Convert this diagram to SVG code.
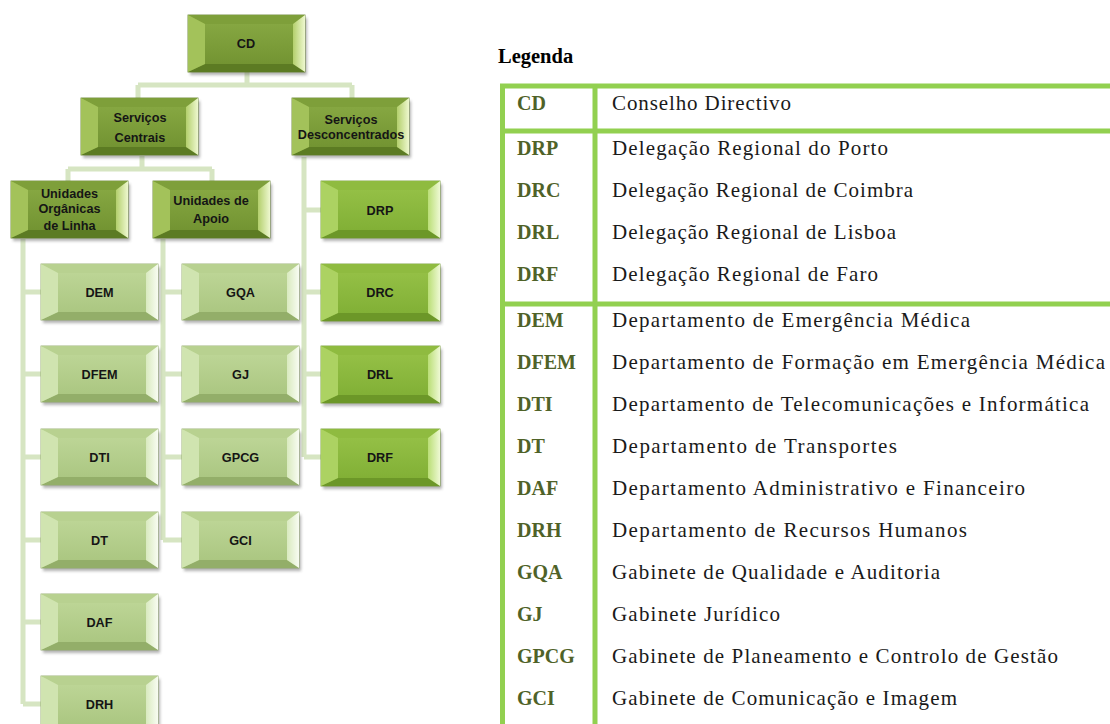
<svg xmlns="http://www.w3.org/2000/svg" xmlns:xlink="http://www.w3.org/1999/xlink" width="1110" height="724" viewBox="0 0 1110 724">
<defs>
<style>
.bt{font-family:"Liberation Sans",Arial,sans-serif;font-weight:bold;font-size:12.7px;fill:#151515;text-anchor:middle}
.ab{font-family:"Liberation Serif","Times New Roman",serif;font-weight:bold;font-size:20px;fill:#4f6228}
.ds{font-family:"Liberation Serif","Times New Roman",serif;font-size:21px;fill:#1a1a1a}
.lg{font-family:"Liberation Serif","Times New Roman",serif;font-weight:bold;font-size:20.5px;fill:#000}
.cn{stroke:#d6e5c2;stroke-width:5;fill:none}
.tb{stroke:#92d050;stroke-width:5;fill:none}
</style>
<filter id="sh" x="-10%" y="-10%" width="130%" height="140%">
<feGaussianBlur stdDeviation="1.5"/>
</filter>
<linearGradient id="gDk" x1="0" y1="0" x2="0" y2="1"><stop offset="0" stop-color="#8aab45"/><stop offset="1" stop-color="#6f902f"/></linearGradient>
<linearGradient id="gDkR" x1="0" y1="0" x2="1" y2="0"><stop offset="0" stop-color="#b3cf6c"/><stop offset="1" stop-color="#eef8cf"/></linearGradient>
<linearGradient id="gBr" x1="0" y1="0" x2="0" y2="1"><stop offset="0" stop-color="#98c349"/><stop offset="1" stop-color="#7ead33"/></linearGradient>
<linearGradient id="gBrR" x1="0" y1="0" x2="1" y2="0"><stop offset="0" stop-color="#bade76"/><stop offset="1" stop-color="#eef9d4"/></linearGradient>
<linearGradient id="gLt" x1="0" y1="0" x2="0" y2="1"><stop offset="0" stop-color="#c0d89a"/><stop offset="1" stop-color="#a8c47e"/></linearGradient>
<linearGradient id="gLtR" x1="0" y1="0" x2="1" y2="0"><stop offset="0" stop-color="#d9eabf"/><stop offset="1" stop-color="#f8fcf2"/></linearGradient>
<g id="bxDark">
<rect x="2" y="3" width="117" height="57" fill="#555" opacity="0.45" filter="url(#sh)"/>
<rect x="0" y="0" width="117" height="57" fill="url(#gDk)" stroke="#5f7d27" stroke-width="0.8"/>
<polygon points="0,0 117,0 105,9 17,9" fill="#7e9f3a"/>
<polygon points="0,57 117,57 105,49 17,49" fill="#5c7b23"/>
<polygon points="0,0 17,9 17,49 0,57" fill="#a3c25a"/>
<polygon points="117,0 105,9 105,49 117,57" fill="url(#gDkR)"/>
</g>
<g id="bxBright">
<rect x="2" y="3" width="119" height="57" fill="#555" opacity="0.45" filter="url(#sh)"/>
<rect x="0" y="0" width="119" height="57" fill="url(#gBr)" stroke="#6b9528" stroke-width="0.8"/>
<polygon points="0,0 119,0 107,9 17,9" fill="#8fbb40"/>
<polygon points="0,57 119,57 107,49 17,49" fill="#6c9728"/>
<polygon points="0,0 17,9 17,49 0,57" fill="#acd262"/>
<polygon points="119,0 107,9 107,49 119,57" fill="url(#gBrR)"/>
</g>
<g id="bxLight">
<rect x="2" y="3" width="117" height="56" fill="#555" opacity="0.45" filter="url(#sh)"/>
<rect x="0" y="0" width="117" height="56" fill="url(#gLt)" stroke="#8aa461" stroke-width="0.8"/>
<polygon points="0,0 117,0 105,9 17,9" fill="#b8d190"/>
<polygon points="0,56 117,56 105,48 17,48" fill="#93ae69"/>
<polygon points="0,0 17,9 17,48 0,56" fill="#d0e4b0"/>
<polygon points="117,0 105,9 105,48 117,56" fill="url(#gLtR)"/>
</g>
</defs>
<rect width="1110" height="724" fill="#fff"/>

<g id="connectors">
<path class="cn" d="M247,72 V85 M138,85 H352 M138,85 V98 M352,85 V98"/>
<path class="cn" d="M142,156 V169 M68,169 H212 M68,169 V181 M212,169 V181"/>
<path class="cn" d="M304,157 V457 M304,210 H321 M304,292 H321 M304,374 H321 M304,457 H321"/>
<path class="cn" d="M23,239 V704 M23,292 H41 M23,374 H41 M23,457 H41 M23,540 H41 M23,622 H41 M23,704 H41"/>
<path class="cn" d="M163,239 V540 M163,292 H182 M163,374 H182 M163,457 H182 M163,540 H182"/>
</g>

<g id="n-CD"><use xlink:href="#bxDark" transform="translate(188,15)"/><text class="bt" x="246" y="47.5">CD</text></g>
<g id="n-SC"><use xlink:href="#bxDark" transform="translate(81,98)"/><text class="bt" x="140" y="121.5">Serviços</text><text class="bt" x="140" y="141.5">Centrais</text></g>
<g id="n-SD"><use xlink:href="#bxDark" transform="translate(292,98)"/><text class="bt" x="351" y="123.5">Serviços</text><text class="bt" x="351" y="138.5">Desconcentrados</text></g>
<g id="n-UO"><use xlink:href="#bxDark" transform="translate(11,181)"/><text class="bt" x="69.5" y="197.5">Unidades</text><text class="bt" x="69.5" y="212.5">Orgânicas</text><text class="bt" x="69.5" y="229.5">de Linha</text></g>
<g id="n-UA"><use xlink:href="#bxDark" transform="translate(153,181)"/><text class="bt" x="211" y="204.5">Unidades de</text><text class="bt" x="211" y="222.5">Apoio</text></g>

<g id="n-DRP"><use xlink:href="#bxBright" transform="translate(321,181)"/><text class="bt" x="380" y="214.5">DRP</text></g>
<g id="n-DRC"><use xlink:href="#bxBright" transform="translate(321,264)"/><text class="bt" x="380" y="296.5">DRC</text></g>
<g id="n-DRL"><use xlink:href="#bxBright" transform="translate(321,346)"/><text class="bt" x="380" y="378.5">DRL</text></g>
<g id="n-DRF"><use xlink:href="#bxBright" transform="translate(321,429)"/><text class="bt" x="380" y="461.5">DRF</text></g>

<g id="n-DEM"><use xlink:href="#bxLight" transform="translate(41,264)"/><text class="bt" x="99.5" y="296.5">DEM</text></g>
<g id="n-DFEM"><use xlink:href="#bxLight" transform="translate(41,346)"/><text class="bt" x="99.5" y="378.5">DFEM</text></g>
<g id="n-DTI"><use xlink:href="#bxLight" transform="translate(41,429)"/><text class="bt" x="99.5" y="461.5">DTI</text></g>
<g id="n-DT"><use xlink:href="#bxLight" transform="translate(41,512)"/><text class="bt" x="99.5" y="544.5">DT</text></g>
<g id="n-DAF"><use xlink:href="#bxLight" transform="translate(41,594)"/><text class="bt" x="99.5" y="626.5">DAF</text></g>
<g id="n-DRH"><use xlink:href="#bxLight" transform="translate(41,676)"/><text class="bt" x="99.5" y="708.5">DRH</text></g>

<g id="n-GQA"><use xlink:href="#bxLight" transform="translate(182,264)"/><text class="bt" x="240.5" y="296.5">GQA</text></g>
<g id="n-GJ"><use xlink:href="#bxLight" transform="translate(182,346)"/><text class="bt" x="240.5" y="378.5">GJ</text></g>
<g id="n-GPCG"><use xlink:href="#bxLight" transform="translate(182,429)"/><text class="bt" x="240.5" y="461.5">GPCG</text></g>
<g id="n-GCI"><use xlink:href="#bxLight" transform="translate(182,512)"/><text class="bt" x="240.5" y="544.5">GCI</text></g>

<g id="legend">
<text class="lg" x="498" y="63">Legenda</text>
<path class="tb" d="M500,86 H1110 M500,131 H1110 M500,304 H1110 M502.5,84 V724 M595,84 V724"/>
<text class="ab" x="517" y="110">CD</text><text class="ds" x="612" y="110" textLength="179" lengthAdjust="spacing">Conselho Directivo</text>
<text class="ab" x="517" y="155">DRP</text><text class="ds" x="612" y="155" textLength="276" lengthAdjust="spacing">Delegação Regional do Porto</text>
<text class="ab" x="517" y="197">DRC</text><text class="ds" x="612" y="197" textLength="301" lengthAdjust="spacing">Delegação Regional de Coimbra</text>
<text class="ab" x="517" y="239">DRL</text><text class="ds" x="612" y="239" textLength="284" lengthAdjust="spacing">Delegação Regional de Lisboa</text>
<text class="ab" x="517" y="281">DRF</text><text class="ds" x="612" y="281" textLength="266" lengthAdjust="spacing">Delegação Regional de Faro</text>
<text class="ab" x="517" y="327">DEM</text><text class="ds" x="612" y="327" textLength="358" lengthAdjust="spacing">Departamento de Emergência Médica</text>
<text class="ab" x="517" y="369">DFEM</text><text class="ds" x="612" y="369" textLength="493" lengthAdjust="spacing">Departamento de Formação em Emergência Médica</text>
<text class="ab" x="517" y="411">DTI</text><text class="ds" x="612" y="411" textLength="477" lengthAdjust="spacing">Departamento de Telecomunicações e Informática</text>
<text class="ab" x="517" y="453">DT</text><text class="ds" x="612" y="453" textLength="285" lengthAdjust="spacing">Departamento de Transportes</text>
<text class="ab" x="517" y="495">DAF</text><text class="ds" x="612" y="495" textLength="413" lengthAdjust="spacing">Departamento Administrativo e Financeiro</text>
<text class="ab" x="517" y="537">DRH</text><text class="ds" x="612" y="537" textLength="355" lengthAdjust="spacing">Departamento de Recursos Humanos</text>
<text class="ab" x="517" y="579">GQA</text><text class="ds" x="612" y="579" textLength="328" lengthAdjust="spacing">Gabinete de Qualidade e Auditoria</text>
<text class="ab" x="517" y="621">GJ</text><text class="ds" x="612" y="621" textLength="168" lengthAdjust="spacing">Gabinete Jurídico</text>
<text class="ab" x="517" y="663">GPCG</text><text class="ds" x="612" y="663" textLength="446" lengthAdjust="spacing">Gabinete de Planeamento e Controlo de Gestão</text>
<text class="ab" x="517" y="705">GCI</text><text class="ds" x="612" y="705" textLength="345" lengthAdjust="spacing">Gabinete de Comunicação e Imagem</text>
</g>
</svg>
